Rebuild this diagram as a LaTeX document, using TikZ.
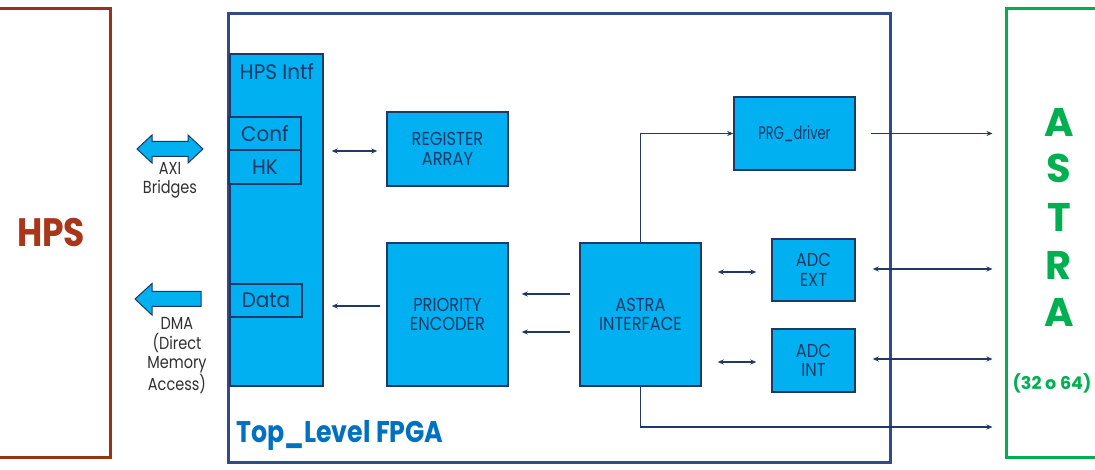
\documentclass[tikz,border=0pt]{standalone}
\usepackage{fontspec}
\setmainfont{Poppins}
\usetikzlibrary{arrows.meta}
\definecolor{cyanfill}{HTML}{00B0F0}
\definecolor{navy}{HTML}{1F3864}
\definecolor{fpgablue}{HTML}{2F4B8C}
\definecolor{hpsbrown}{HTML}{9A3216}
\definecolor{hpstext}{HTML}{A8361A}
\definecolor{astragreen}{HTML}{00B050}
\definecolor{toplevel}{HTML}{0070C0}
\definecolor{labelgray}{HTML}{303030}
\newcommand{\vs}[2][1.15]{\scalebox{1}[#1]{#2}}
\begin{document}
\begin{tikzpicture}[x=1pt,y=-1pt,
  block/.style={draw=navy, line width=1.5pt, fill=cyanfill, text=navy, align=center,
    font=\fontsize{16.3}{19.5}\selectfont, inner sep=0pt},
  subblock/.style={draw=navy, line width=1.2pt, fill=cyanfill, text=navy, inner sep=0pt,
    font=\fontsize{20}{22}\selectfont},
  link/.style={draw=navy, line width=1.2pt, -{Stealth[length=6pt,width=5pt]}},
  dlink/.style={draw=navy, line width=1.2pt, {Stealth[length=6pt,width=5pt]}-{Stealth[length=6pt,width=5pt]}},
  bigarrow/.style={draw=navy, line width=1pt, fill=cyanfill},
  sidelabel/.style={text=labelgray, align=center, font=\fontsize{14.5}{19.2}\selectfont, inner sep=0pt},
  astraletter/.style={text=astragreen, font=\bfseries\fontsize{40}{42}\selectfont, inner sep=0pt}
]
\useasboundingbox (0,0) rectangle (1095,470);
\fill[white] (0,0) rectangle (1095,470);

% HPS
\node[draw=hpsbrown, line width=3pt, minimum width=122pt, minimum height=448pt,
  text=hpstext, font=\bfseries\fontsize{34.5}{36}\selectfont] (hps) at (49,233) {\hspace*{4pt}\vs{HPS}};

% FPGA top level
\node[draw=fpgablue, line width=3pt, minimum width=662pt, minimum height=448pt, inner sep=0pt] (fpga) at (559,238) {};
\node[anchor=base west, text=toplevel, font=\bfseries\fontsize{25.3}{27}\selectfont, inner sep=0pt] (toplabel) at (236,442) {\vs[1.18]{Top\_Level FPGA}};

% ASTRA
\node[draw=astragreen, line width=3pt, minimum width=120pt, minimum height=448pt, inner sep=0pt] (astrabox) at (1066,233) {};
\node[astraletter] (a1) at (1059,122) {A};
\node[astraletter] (s1) at (1059,168) {S};
\node[astraletter] (t1) at (1059,217) {T};
\node[astraletter] (r1) at (1059,265) {R};
\node[astraletter] (a2) at (1059,312) {A};
\node[text=astragreen, font=\bfseries\fontsize{17.5}{19}\selectfont, inner sep=0pt] (count) at (1052,383) {(32 o 64)};

% HPS interface
\node[block, minimum width=93pt, minimum height=332pt] (intf) at (276.5,220) {};
\node[text=navy, font=\fontsize{20}{22}\selectfont, inner sep=0pt] (intflabel) at (277,72) {\vs[1.05]{HPS Intf}};
\node[subblock, minimum width=72pt, minimum height=33pt] (conf) at (265,133.5) {\vs[1.05]{Conf}};
\node[subblock, minimum width=72pt, minimum height=34pt] (hk) at (265,167) {\vs[1.05]{HK}};
\node[subblock, minimum width=72pt, minimum height=33pt] (data) at (266,300.5) {\vs[1.05]{Data}};

% blocks
\node[block, minimum width=121pt, minimum height=74pt] (reg) at (447.5,149) {\vs{REGISTER}\\\vs{ARRAY}};
\node[block, minimum width=121pt, minimum height=143pt] (pe) at (447.5,314.5) {\vs{PRIORITY}\\\vs{ENCODER}};
\node[block, minimum width=121pt, minimum height=143pt] (astra) at (640.5,314.5) {\vs{ASTRA}\\\vs{INTERFACE}};
\node[block, minimum width=121pt, minimum height=73pt, font=\fontsize{13}{15}\selectfont] (prg) at (794.5,133.5) {\vs[1.4]{PRG\_driver}};
\node[block, minimum width=83pt, minimum height=62pt] (adcext) at (813.5,270) {\vs{ADC}\\\vs{EXT}};
\node[block, minimum width=83pt, minimum height=63pt] (adcint) at (813.5,360.5) {\vs{ADC}\\\vs{INT}};

% big arrows
\path[bigarrow] (137,149) -- (152,135) -- (152,141.5) -- (188,141.5) -- (188,135) -- (203,149)
  -- (188,163) -- (188,156.5) -- (152,156.5) -- (152,163) -- cycle;
\node[sidelabel] (axi) at (170,180) {\vs[1.2]{AXI}\\\vs[1.2]{Bridges}};
\path[bigarrow] (135,299) -- (152,283.5) -- (152,291.5) -- (201,291.5) -- (201,306.5) -- (152,306.5) -- (152,315) -- cycle;
\node[sidelabel] (dma) at (177,355.5) {\vs[1.2]{DMA}\\\vs[1.2]{(Direct}\\\vs[1.2]{Memory}\\\vs[1.2]{Access)}};

% connectors
\coordinate (intfe) at ([xshift=8pt]intf.east);
\coordinate (peout) at ([shift={(-6pt,8.5pt)}]pe.west);
\coordinate (astraside) at ([xshift=-12pt]astrabox.west);
\draw[dlink] ([yshift=-2pt]intfe |- reg.west) -- ([xshift=-9pt,yshift=-2pt]reg.west);
\draw[link] (peout) -- (peout -| intfe);
\draw[link] ([shift={(-9pt,20.5pt)}]astra.west) -- ([shift={(13pt,20.5pt)}]pe.east);
\draw[link] ([shift={(-9pt,-17.5pt)}]astra.west) -- ([shift={(13pt,-17.5pt)}]pe.east);
\draw[link] (astra.north) |- (prg.west);
\draw[link] ([xshift=15pt]prg.east) -- (prg.east -| astraside);
\coordinate (ae) at ([xshift=16pt]astra.east);
\draw[dlink] ([yshift=-2pt]ae |- adcext.west) -- ([shift={(-15pt,-2pt)}]adcext.west);
\draw[dlink] ([yshift=-1.5pt]ae |- adcint.west) -- ([shift={(-15pt,-1.5pt)}]adcint.west);
\draw[dlink] ([shift={(17pt,1pt)}]adcext.east) -- ([yshift=1pt]adcext.east -| astraside);
\draw[dlink] ([shift={(17pt,1.5pt)}]adcint.east) -- ([yshift=1.5pt]adcint.east -| astraside);
\coordinate (botend) at (astraside |- 0,427);
\draw[link] (astra.south) |- (botend);
\end{tikzpicture}
\end{document}
